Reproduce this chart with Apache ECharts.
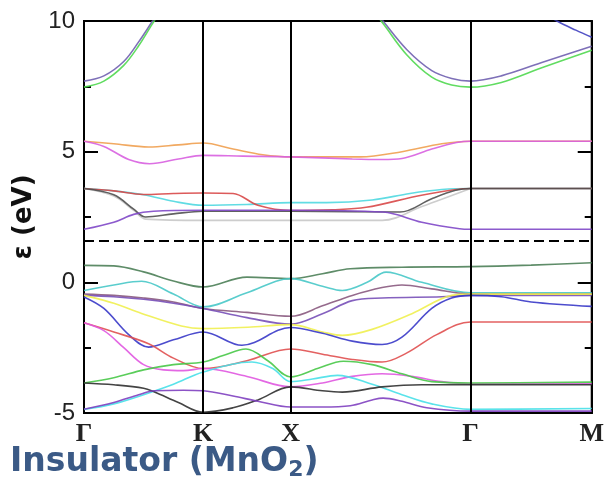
<!DOCTYPE html>
<html lang="en">
<head>
<meta charset="UTF-8">
<title>MnO2 bands</title>
<script src="https://cdn.jsdelivr.net/npm/echarts@6/dist/echarts.min.js"></script>
<style>
  html, body { margin: 0; padding: 0; background: #fff; }
  #main { width: 607px; height: 493px; }
</style>
</head>
<body>
<div id="main"></div>
<script>
// k-path positions of the high symmetry points
var kTicks = [0, 120, 208, 389, 511];
var kLabels = ['Γ', 'K', 'X', 'Γ', 'M'];
var fermi = 1.58;

// conduction bands (pairs of [k, eV])
var cTop1 = [[0,7.70],[20,7.9],[40,8.45],[55,9.2],[69,10],[90,11.2],[120,12],[208,12.5],[270,11.5],[301,10],[325,8.9],[350,8.1],[370,7.8],[389,7.70],[420,7.9],[460,8.4],[511,9.03]];
var cTop2 = [[0,7.47],[20,7.7],[40,8.3],[55,9.05],[69,9.9],[90,11.1],[120,12],[208,12.5],[270,11.4],[301,9.9],[325,8.7],[350,7.85],[370,7.55],[389,7.47],[420,7.65],[460,8.2],[511,8.88]];
var cTop3 = [[389,12],[450,10.6],[476,10],[495,9.65],[511,9.38]];
var cOrange = [[0,5.40],[30,5.3],[65,5.18],[95,5.26],[120,5.33],[150,5.1],[180,4.88],[208,4.80],[278,4.80],[320,5.0],[360,5.3],[389,5.40],[511,5.40]];
var cMagenta = [[0,5.40],[20,5.2],[45,4.7],[66,4.54],[95,4.72],[120,4.86],[160,4.83],[208,4.80],[270,4.72],[300,4.70],[320,4.74],[350,5.1],[375,5.35],[389,5.40],[511,5.40]];
var cCyan = [[0,3.59],[30,3.5],[60,3.35],[90,3.1],[120,2.95],[164,2.98],[208,3.05],[244,3.05],[290,3.15],[328,3.40],[360,3.55],[389,3.59],[511,3.59]];
var cRed = [[0,3.59],[30,3.5],[60,3.36],[90,3.40],[120,3.42],[150,3.40],[175,2.95],[208,2.75],[250,2.78],[284,2.87],[341,3.34],[389,3.59],[511,3.59]];
var cDark = [[0,3.59],[30,3.35],[50,2.8],[62,2.5],[90,2.62],[120,2.72],[208,2.72],[318,2.69],[350,3.2],[374,3.52],[389,3.59],[511,3.59]];
var cPurple = [[0,2.03],[30,2.3],[50,2.6],[70,2.72],[120,2.76],[208,2.76],[301,2.69],[340,2.3],[378,2.05],[389,2.03],[511,2.03]];
var cGray = [[0,3.59],[30,3.3],[50,2.75],[62,2.42],[120,2.37],[208,2.37],[300,2.37],[340,2.9],[389,3.59]];

// valence bands
var vDkGreen = [[0,0.65],[30,0.63],[60,0.4],[90,0.05],[120,-0.18],[164,0.2],[208,0.14],[240,0.33],[268,0.52],[320,0.58],[389,0.6],[450,0.66],[511,0.75]];
var vCyan = [[0,-0.31],[30,-0.1],[58,0.04],[90,-0.45],[120,-0.94],[164,-0.4],[208,0.14],[240,-0.15],[260,-0.31],[285,0.0],[304,0.39],[340,0.0],[389,-0.40],[511,-0.40]];
var vMauve = [[0,-0.45],[30,-0.5],[60,-0.6],[90,-0.75],[120,-1.0],[164,-1.15],[208,-1.3],[240,-0.9],[270,-0.5],[300,-0.2],[320,-0.1],[350,-0.25],[389,-0.45],[511,-0.45]];
var vPurple = [[0,-0.5],[30,-0.55],[60,-0.65],[90,-0.8],[120,-1.0],[164,-1.35],[208,-1.6],[240,-1.2],[270,-0.7],[300,-0.6],[360,-0.55],[389,-0.5],[511,-0.5]];
var vBlue = [[0,-0.56],[20,-1.0],[45,-2.0],[65,-2.48],[90,-2.2],[120,-1.90],[159,-2.41],[208,-1.73],[240,-1.95],[270,-2.25],[300,-2.38],[320,-2.1],[350,-1.0],[370,-0.6],[389,-0.5],[420,-0.55],[450,-0.75],[511,-0.92]];
var vYellow = [[0,-0.5],[30,-0.8],[58,-1.19],[98,-1.67],[120,-1.77],[165,-1.72],[208,-1.62],[240,-1.9],[260,-2.03],[290,-1.8],[330,-1.2],[370,-0.5],[389,-0.45],[511,-0.45]];
var vRed = [[0,-1.55],[30,-1.9],[65,-2.35],[90,-2.9],[120,-3.3],[164,-3.0],[208,-2.55],[240,-2.75],[270,-2.95],[300,-3.05],[325,-2.7],[355,-2.0],[389,-1.52],[511,-1.52]];
var vMagenta = [[0,-1.55],[20,-1.85],[40,-2.5],[60,-3.15],[80,-3.35],[100,-3.38],[120,-3.3],[164,-3.6],[208,-4.0],[240,-3.85],[270,-3.6],[300,-3.5],[330,-3.6],[360,-3.8],[389,-3.88],[511,-3.88]];
var vGreen = [[0,-3.85],[30,-3.65],[60,-3.35],[90,-3.15],[120,-3.05],[140,-2.8],[163,-2.55],[185,-3.0],[208,-3.62],[235,-3.3],[261,-3.02],[290,-3.15],[320,-3.5],[350,-3.8],[389,-3.85],[511,-3.82]];
var vCyanLow = [[0,-4.86],[30,-4.65],[60,-4.3],[90,-3.9],[120,-3.43],[169,-3.05],[190,-3.3],[208,-3.8],[230,-3.7],[255,-3.56],[290,-3.9],[320,-4.3],[350,-4.65],[389,-4.86],[511,-4.83]];
var vBlack = [[0,-3.85],[30,-3.92],[60,-4.05],[71,-4.2],[95,-4.6],[120,-4.97],[150,-4.8],[175,-4.5],[208,-4.0],[240,-4.15],[260,-4.2],[300,-4.0],[340,-3.92],[389,-3.92],[511,-3.92]];
var vPurpleLow = [[0,-4.86],[30,-4.6],[55,-4.3],[71,-4.15],[100,-4.13],[120,-4.15],[150,-4.35],[175,-4.55],[208,-4.77],[240,-4.77],[268,-4.72],[290,-4.5],[301,-4.43],[320,-4.55],[345,-4.8],[389,-4.93],[511,-4.93]];

var bands = [
  [cTop1, '#7060b0'], [cTop2, '#50d850'], [cTop3, '#4040c0'],
  [cOrange, '#f0a050'], [cMagenta, '#d860e0'],
  [cGray, '#c8c8c8'], [cCyan, '#50d8e0'], [cRed, '#d84848'], [cDark, '#505050'], [cPurple, '#8048c8'],
  [vDkGreen, '#4c8058'], [vCyan, '#48c8c8'], [vMauve, '#8a5a80'], [vPurple, '#7850b8'],
  [vYellow, '#f0f050'], [vBlue, '#3838c8'], [vRed, '#e05050'], [vMagenta, '#e058e0'],
  [vGreen, '#48c848'], [vCyanLow, '#48e0e8'], [vBlack, '#303030'], [vPurpleLow, '#8040c0']
];

var series = bands.map(function (b) {
  return {
    type: 'line', data: b[0], smooth: 0.35,
    showSymbol: false, symbol: 'none', clip: true, silent: true,
    lineStyle: { color: b[1], width: 1.6, opacity: 0.9 }
  };
});

// symmetry lines and the dashed level
series.push({
  type: 'line', data: [], silent: true,
  markLine: {
    silent: true, symbol: 'none', label: { show: false },
    lineStyle: { color: '#000', width: 2, type: 'solid' },
    data: [{ xAxis: kTicks[1] }, { xAxis: kTicks[2] }, { xAxis: kTicks[3] },
           { yAxis: fermi, lineStyle: { type: [10, 5], width: 2, color: '#000' } }]
  }
});

var yTicks = {
  min: -5, max: 10, interval: 5,
  axisLine: { show: true, lineStyle: { color: '#000', width: 2 } },
  axisTick: { show: true, inside: true, length: 14, lineStyle: { color: '#000', width: 2 } },
  minorTick: { show: true, splitNumber: 2, length: 7, lineStyle: { color: '#000', width: 2 } },
  splitLine: { show: false }
};

var option = {
  animation: false,
  grid: { left: 84, right: 12, top: 21, bottom: 80, show: true, borderColor: '#000', borderWidth: 2 },
  xAxis: {
    type: 'value', min: 0, max: 511,
    axisLine: { show: true, onZero: false, lineStyle: { color: '#000', width: 2 } },
    axisTick: { show: false },
    splitLine: { show: false },
    axisLabel: {
      customValues: kTicks, margin: 8,
      formatter: function (v) { return kLabels[kTicks.indexOf(v)]; },
      fontFamily: 'Liberation Serif', fontWeight: 'bold', fontSize: 26, color: '#222'
    }
  },
  yAxis: [
    Object.assign({
      type: 'value', position: 'left',
      name: 'ε (eV)', nameLocation: 'middle', nameGap: 38, nameRotate: 90,
      nameTextStyle: { fontFamily: 'DejaVu Sans', fontWeight: 'bold', fontSize: 26, color: '#111' },
      axisLabel: { fontFamily: 'Liberation Sans', fontSize: 24, color: '#222', margin: 9 }
    }, yTicks),
    Object.assign({
      type: 'value', position: 'right', axisLabel: { show: false }
    }, yTicks)
  ],
  graphic: [{
    type: 'text', left: 10, top: 446,
    style: {
      text: 'Insulator (MnO{s|2})',
      font: 'bold 33px "DejaVu Sans"', fill: '#3b5a86',
      rich: { s: { font: 'bold 22px "DejaVu Sans"', fill: '#3b5a86', padding: [15, 0, 0, 0] } }
    }
  }],
  series: series
};

var myChart = echarts.init(document.getElementById('main'));
myChart.setOption(option);
</script>
</body>
</html>
